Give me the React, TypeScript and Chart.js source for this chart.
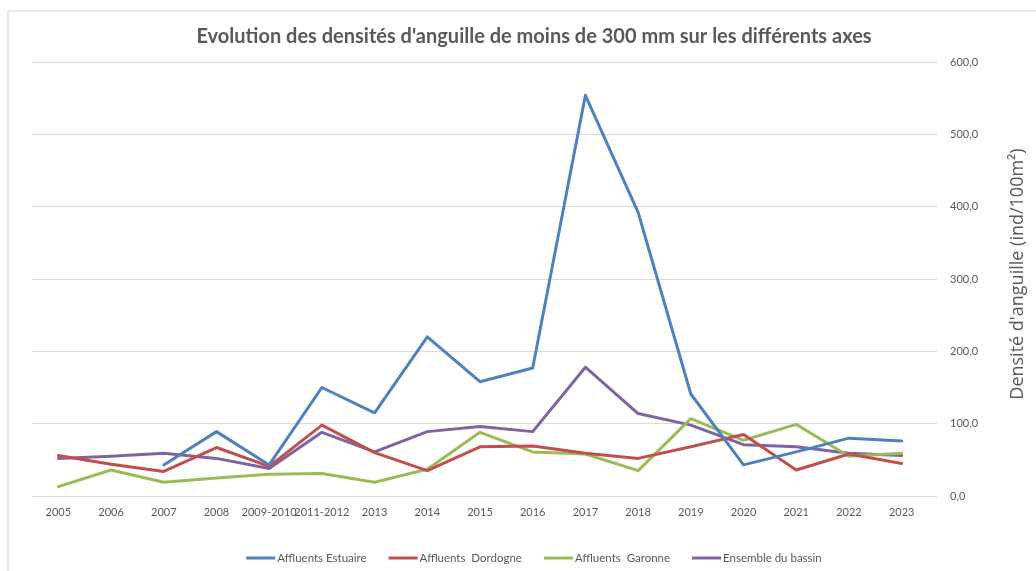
import React, { useEffect, useRef } from "react";
import { Chart, registerables } from "chart.js";

Chart.register(...registerables);

const titleText = "Evolution des densités d'anguille de moins de 300 mm sur les différents axes";
const yAxisTitle = "Densité d'anguille (ind/100m²)";

const categories = [
  "2005", "2006", "2007", "2008", "2009-2010", "2011-2012", "2013", "2014", "2015",
  "2016", "2017", "2018", "2019", "2020", "2021", "2022", "2023",
];

const affluentsEstuaire = [null, null, 43, 89, 43, 150, 115, 220, 158, 177, 554, 392, 141, 43, 61, 80, 76];
const affluentsDordogne = [56, 44, 34, 67, 41, 98, 60, 35, 68, 69, 59, 52, 68, 85, 36, 58, 45];
const affluentsGaronne = [13, 36, 19, 25, 30, 31, 19, 37, 88, 61, 58, 35, 107, 77, 99, 55, 59];
const ensembleBassin = [52, 55, 59, 52, 38, 88, 61, 89, 96, 89, 178, 114, 98, 71, 68, 59, 56];

const seriesNames = ["Affluents Estuaire", "Affluents  Dordogne", "Affluents  Garonne", "Ensemble du bassin"];
const seriesColors = ["#4F81BD", "#C0504D", "#9BBB59", "#8064A2"];

const yMin = 0;
const yMax = 600;
const yStep = 100;

const TEXT = "#595959";
const GRID = "#d9d9d9";

const axisTitlePlugin = {
  id: "rightAxisTitle",
  afterDraw(chart: any) {
    const { ctx, chartArea } = chart;
    ctx.save();
    ctx.translate(chart.width - 18, (chartArea.top + chartArea.bottom) / 2 - 5);
    ctx.rotate(-Math.PI / 2);
    ctx.font = '18px "Open Sans"';
    ctx.fillStyle = TEXT;
    ctx.textAlign = "center";
    ctx.textBaseline = "middle";
    ctx.fillText(yAxisTitle, 0, 0);
    ctx.restore();
  },
};

const legendPlugin = {
  id: "customLegend",
  afterDraw(chart: any) {
    const { ctx } = chart;
    const swatchW = 29;
    const swatchGap = 2;
    const itemGap = 22;
    const y = chart.height - 13;
    ctx.save();
    ctx.font = '11.5px "Lato"';
    ctx.textBaseline = "middle";
    ctx.textAlign = "left";
    const items = chart.data.datasets.map((ds: any) => ({
      text: ds.label,
      color: ds.borderColor,
      w: swatchW + swatchGap + ctx.measureText(ds.label).width,
    }));
    const total = items.reduce((s: number, it: any) => s + it.w, 0) + itemGap * (items.length - 1);
    let x = chart.width / 2 + 16 - total / 2;
    for (const it of items) {
      ctx.strokeStyle = it.color;
      ctx.lineWidth = 3;
      ctx.beginPath();
      ctx.moveTo(x, y);
      ctx.lineTo(x + swatchW, y);
      ctx.stroke();
      ctx.fillStyle = TEXT;
      ctx.fillText(it.text, x + swatchW + swatchGap, y);
      x += it.w + itemGap;
    }
    ctx.restore();
  },
};

export default function App() {
  const canvasRef = useRef<HTMLCanvasElement | null>(null);

  useEffect(() => {
    document.body.style.margin = "0";
    const canvas = canvasRef.current;
    if (!canvas) return;
    const allSeries = [affluentsEstuaire, affluentsDordogne, affluentsGaronne, ensembleBassin];
    const chart = new Chart(canvas, {
      type: "line",
      data: {
        labels: categories,
        datasets: allSeries.map((d, i) => ({
          label: seriesNames[i],
          data: d,
          borderColor: seriesColors[i],
          backgroundColor: seriesColors[i],
          borderWidth: 3,
          pointRadius: 0,
          pointHoverRadius: 0,
          tension: 0,
          fill: false,
          borderJoinStyle: "round" as const,
          borderCapStyle: "round" as const,
          spanGaps: false,
        })),
      },
      options: {
        responsive: false,
        animation: false,
        layout: { padding: { left: 32, right: 0, top: 0, bottom: 0 } },
        plugins: {
          tooltip: { enabled: false },
          legend: { display: false },
          title: {
            display: true,
            text: titleText,
            color: TEXT,
            font: { family: "Lato", size: 20, weight: "bold" },
            padding: { top: 25, bottom: 13 },
          },
        },
        scales: {
          x: {
            type: "category",
            offset: true,
            grid: { display: false, drawTicks: false },
            border: { display: false },
            ticks: {
              color: TEXT,
              font: { family: "Lato", size: 11 },
              autoSkip: false,
              maxRotation: 0,
              minRotation: 0,
              padding: 10,
            },
            afterFit: (scale: any) => {
              scale.height = 75;
            },
          },
          y: {
            position: "right",
            min: yMin,
            max: yMax,
            grid: { color: GRID, lineWidth: 1, tickLength: 9, tickColor: GRID },
            border: { display: false },
            ticks: {
              stepSize: yStep,
              color: TEXT,
              font: { family: "Lato", size: 11 },
              padding: 13,
              callback: (v: any) => Number(v).toFixed(1).replace(".", ","),
            },
            afterFit: (scale: any) => {
              scale.width = 108;
            },
          },
        },
      },
      plugins: [axisTitlePlugin, legendPlugin],
    });
    return () => chart.destroy();
  }, []);

  return (
    <div style={{ position: "relative", width: 1036, height: 571, background: "#fff", overflow: "hidden" }}>
      <div
        style={{
          position: "absolute",
          left: 7,
          top: 10,
          width: 1040,
          height: 570,
          borderTop: "2px solid #e8e8e8",
          borderLeft: "2px solid #e8e8e8",
        }}
      />
      <canvas
        ref={canvasRef}
        width={1036}
        height={571}
        style={{ position: "absolute", left: 0, top: 0, display: "block" }}
      />
    </div>
  );
}
